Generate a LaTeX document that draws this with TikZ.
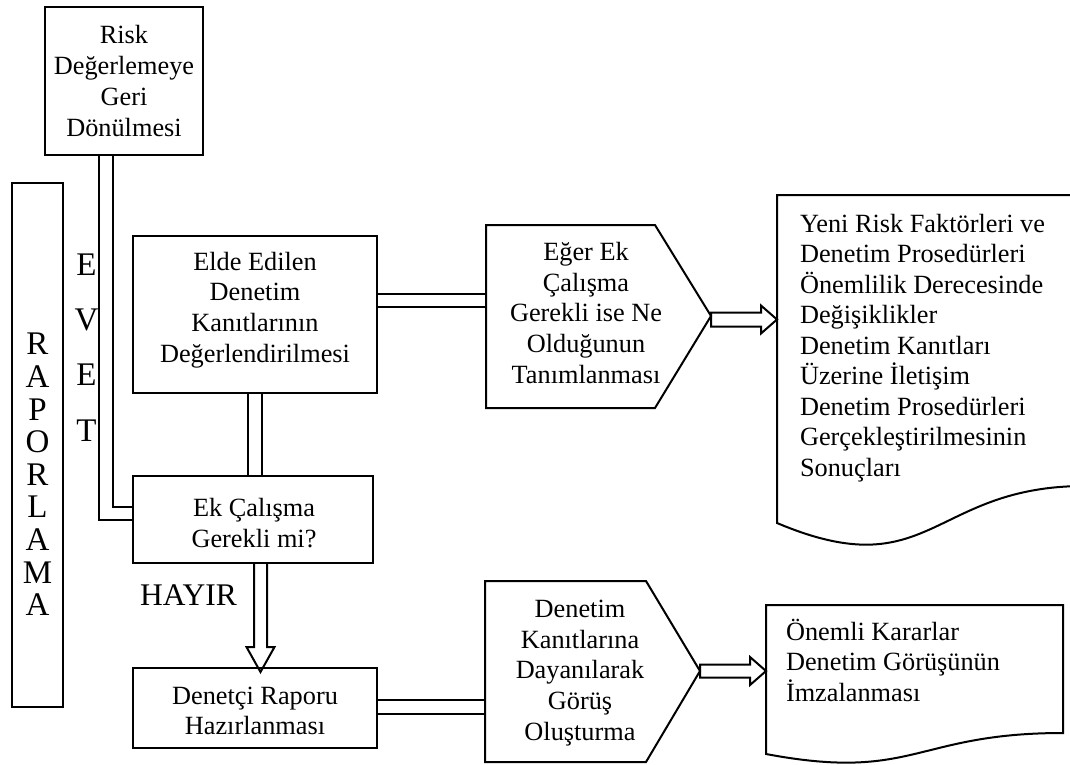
\documentclass[tikz,border=0pt]{standalone}
\usepackage{fontspec}
\setmainfont{Liberation Serif}
\usetikzlibrary{calc}
\pgfdeclarelayer{back}
\pgfsetlayers{back,main}
\begin{document}
\begin{tikzpicture}[x=1pt,y=-1pt,
  every node/.style={inner sep=0pt, outer sep=0pt},
  box/.style={draw, line width=2pt, rectangle},
  txt/.style={align=center, font=\fontsize{26.3}{30.7}\selectfont},
  ltxt/.style={align=left, font=\fontsize{26.3}{30.5}\selectfont, anchor=north west},
  letters/.style={align=center, font=\fontsize{33}{32.6}\selectfont},
  dbl/.style={draw, line width=2pt, double, double distance=11.5pt},
  hollow/.style={draw, line width=2pt, fill=white, line join=miter},
  outline/.style={draw, line width=2pt, line join=miter}
]
\useasboundingbox (0,0) rectangle (1070,765);

% ---- rectangular steps ----
\node[box, txt, minimum width=158, minimum height=148] (risk) at (124,81)
  {Risk\\Değerlemeye\\Geri\\Dönülmesi};

\node[box, minimum width=51, minimum height=524] (rap) at (37.5,445) {};
\node[letters] (rap-t) at (37.5,474.5) {R\\A\\P\\O\\R\\L\\A\\M\\A};

\node[align=center, font=\fontsize{33}{55.3}\selectfont] (evet) at (86.5,347.5) {E\\V\\E\\T};

\node[box, minimum width=244, minimum height=157] (elde) at (255,314.5) {};
\node[txt] (elde-t) at (255,310) {Elde Edilen\\Denetim\\Kanıtlarının\\Değerlendirilmesi};

\node[box, minimum width=240, minimum height=87] (ek) at (253,519.5) {};
\node[txt] (ek-t) at (254,523) {Ek Çalışma\\Gerekli mi?};

\node[box, minimum width=244, minimum height=80] (rapor) at (255,708) {};
\node[txt] (rapor-t) at (255,711) {Denetçi Raporu\\Hazırlanması};

\node[font=\fontsize{31.5}{36}\selectfont] (hayir) at (188.5,595) {HAYIR};

% ---- pentagon (preparation) steps ----
\coordinate (e-nw) at (486,225);
\coordinate (e-ne) at (655,225);
\coordinate (e-tip) at (711,316);
\coordinate (e-se) at (655,408);
\coordinate (e-sw) at (486,408);
\draw[outline] (e-nw) -- (e-ne) -- (e-tip) -- (e-se) -- (e-sw) -- cycle;
\node[txt] (eger) at (586,313) {Eğer Ek\\Çalışma\\Gerekli ise Ne\\Olduğunun\\Tanımlanması};

\coordinate (g-nw) at (485,581);
\coordinate (g-ne) at (646,581);
\coordinate (g-tip) at (700,671);
\coordinate (g-se) at (646,762);
\coordinate (g-sw) at (485,762);
\draw[outline] (g-nw) -- (g-ne) -- (g-tip) -- (g-se) -- (g-sw) -- cycle;
\node[txt] (gorus) at (580,673) {Denetim\\Kanıtlarına\\Dayanılarak\\Görüş\\Oluşturma};

% ---- document shapes ----
\coordinate (d1-nw) at (777,195);
\coordinate (d1-ne) at (1085,195);
\draw[outline] (d1-nw) -- (d1-ne) -- (1085,486)
  .. controls (931,486) and (931,588) .. (777,523) -- cycle;
\node[ltxt] (doc1) at (800,214) {Yeni Risk Faktörleri ve\\Denetim Prosedürleri\\Önemlilik Derecesinde\\Değişiklikler\\Denetim Kanıtları\\Üzerine İletişim\\Denetim Prosedürleri\\Gerçekleştirilmesinin\\Sonuçları};

\coordinate (d2-nw) at (766,605);
\coordinate (d2-ne) at (1063,605);
\draw[outline] (d2-nw) -- (d2-ne) -- (1063,733)
  .. controls (914.5,733) and (914.5,782) .. (766,754) -- cycle;
\node[ltxt] (doc2) at (786,619) {Önemli Kararlar\\Denetim Görüşünün\\İmzalanması};

% ---- connectors ----
\begin{pgfonlayer}{back}
\draw[dbl] ([xshift=-18pt]risk.south) |- ([yshift=6pt]ek.west);
\draw[dbl] (elde.south) -- (elde.south |- ek.north);
\draw[dbl] ([yshift=14pt]elde.east) -- ([yshift=14pt]elde.east -| e-nw);
\draw[dbl] ([yshift=1pt]rapor.east) -- ([yshift=1pt]rapor.east -| g-nw);
% block arrows
\draw[hollow] ([xshift=7.5pt]ek.south) ++(-6.5,0) -- ++(0,84) -- ++(-7.5,0)
  -- ++(14,25) -- ++(14,-25) -- ++(-7.5,0) -- ++(0,-84);
\draw[hollow] ($(e-tip)+(0,-3.5)$) -- ++(50,0) -- ++(0,-7) -- ++(16,14)
  -- ++(-16,14) -- ++(0,-7) -- ++(-50,0) -- cycle;
\draw[hollow] ($(g-tip)+(0,-6.5)$) -- ++(50,0) -- ++(0,-7.5) -- ++(16,14)
  -- ++(-16,14) -- ++(0,-7.5) -- ++(-50,0) -- cycle;
\end{pgfonlayer}
\end{tikzpicture}
\end{document}
